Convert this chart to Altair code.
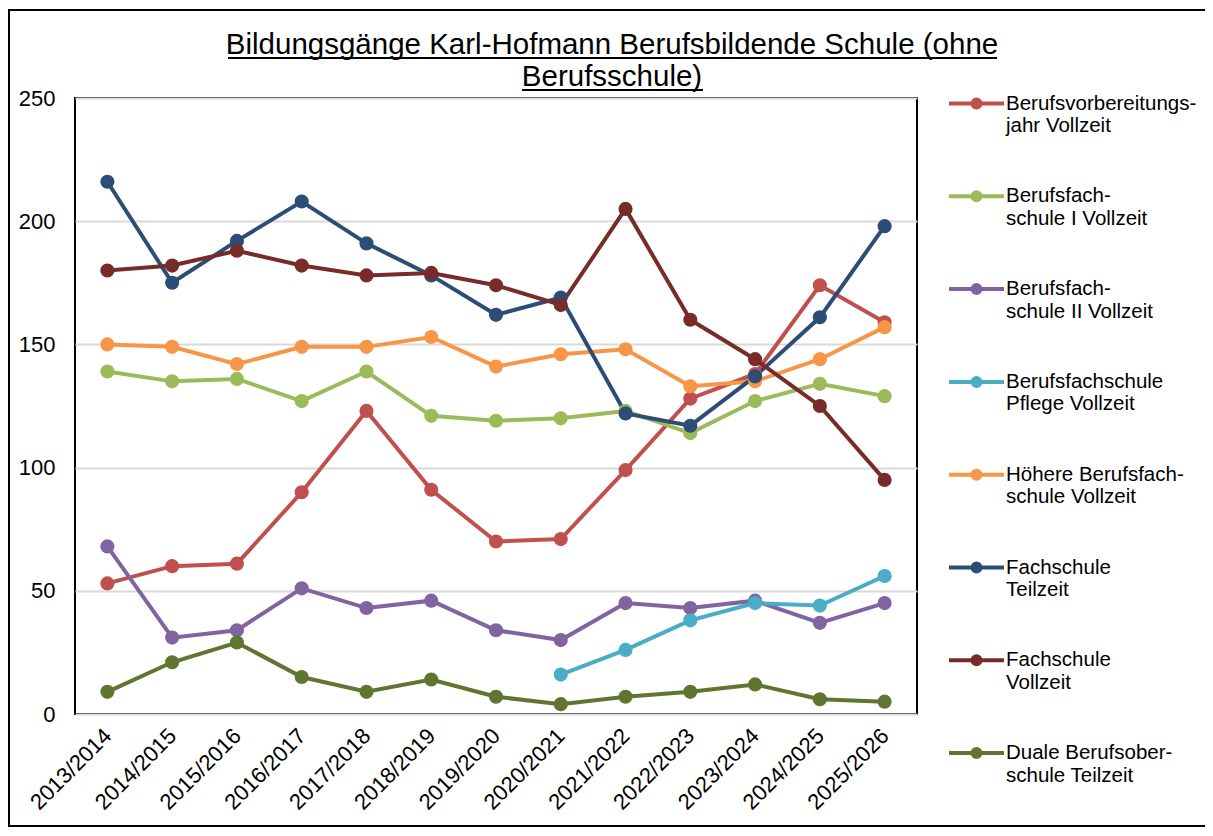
import altair as alt
import pandas as pd

years = ["2013/2014", "2014/2015", "2015/2016", "2016/2017", "2017/2018", "2018/2019",
         "2019/2020", "2020/2021", "2021/2022", "2022/2023", "2023/2024", "2024/2025", "2025/2026"]

series_names = [
    "Berufsvorbereitungs-|jahr Vollzeit",
    "Berufsfach-|schule I Vollzeit",
    "Berufsfach-|schule II Vollzeit",
    "Berufsfachschule|Pflege Vollzeit",
    "Höhere Berufsfach-|schule  Vollzeit",
    "Fachschule|Teilzeit",
    "Fachschule|Vollzeit",
    "Duale Berufsober-|schule Teilzeit",
]

bvj = [53, 60, 61, 90, 123, 91, 70, 71, 99, 128, 138, 174, 159]
bfs1 = [139, 135, 136, 127, 139, 121, 119, 120, 123, 114, 127, 134, 129]
bfs2 = [68, 31, 34, 51, 43, 46, 34, 30, 45, 43, 46, 37, 45]
pflege = [None, None, None, None, None, None, None, 16, 26, 38, 45, 44, 56]
hbf = [150, 149, 142, 149, 149, 153, 141, 146, 148, 133, 135, 144, 157]
fs_tz = [216, 175, 192, 208, 191, 178, 162, 169, 122, 117, 137, 161, 198]
fs_vz = [180, 182, 188, 182, 178, 179, 174, 166, 205, 160, 144, 125, 95]
bos = [9, 21, 29, 15, 9, 14, 7, 4, 7, 9, 12, 6, 5]

colors = ["#C0504D", "#9BBB59", "#8064A2", "#4BACC6", "#F79646", "#2C4D75", "#772C2A", "#5F7530"]

title_lines = ["Bildungsgänge Karl-Hofmann Berufsbildende Schule (ohne", "Berufsschule)"]
y_ticks = [0, 50, 100, 150, 200, 250]

all_series = [bvj, bfs1, bfs2, pflege, hbf, fs_tz, fs_vz, bos]
rows = []
for order, (name, vals) in enumerate(zip(series_names, all_series)):
    for yr, v in zip(years, vals):
        if v is not None:
            rows.append({"Schuljahr": yr, "Serie": name, "Anzahl": v, "order": order})
df = pd.DataFrame(rows)

FONT = "Liberation Sans"
W, H = 842, 616

color_scale = alt.Scale(domain=series_names, range=colors)

# legend symbol: a line with a dot (dot drawn as concentric stroked circles)
r1, r2 = 0.073, 0.145
legend_symbol = (
    "M-1,0H1"
    f"M{r1},0A{r1},{r1},0,1,1,-{r1},0A{r1},{r1},0,1,1,{r1},0"
    f"M{r2},0A{r2},{r2},0,1,1,-{r2},0A{r2},{r2},0,1,1,{r2},0"
)
legend = alt.Legend(title=None, orient="none", legendX=872, legendY=-24,
                    symbolType=legend_symbol, symbolSize=3025,
                    symbolStrokeWidth=4, symbolOpacity=1,
                    labelFont=FONT, labelFontSize=20.5, labelColor="#000000",
                    labelLimit=0, labelOffset=0,
                    labelExpr="split(datum.label, '|')",
                    rowPadding=29.8, direction="vertical")

x_enc = alt.X("Schuljahr:N", sort=years,
              axis=alt.Axis(title=None, labelAngle=-45, labelAlign="right", labelBaseline="middle",
                            labelFontSize=22, labelFont=FONT, labelColor="#000000",
                            ticks=False, domain=False, grid=False, labelPadding=18))
y_enc = alt.Y("Anzahl:Q", scale=alt.Scale(domain=[0, 250], nice=False),
              axis=alt.Axis(title=None, values=y_ticks, labelFontSize=22, labelFont=FONT,
                            labelColor="#000000", ticks=False, domain=False,
                            gridColor="#D9D9D9", gridWidth=2, labelPadding=20))

lines = alt.Chart(df).mark_line(strokeWidth=4).encode(
    x=x_enc, y=y_enc,
    color=alt.Color("Serie:N", scale=color_scale, legend=legend),
    detail="Serie:N",
    order="order:Q",
)

points = alt.Chart(df).mark_circle(size=200, opacity=1).encode(
    x=alt.X("Schuljahr:N", sort=years),
    y="Anzahl:Q",
    color=alt.Color("Serie:N", scale=color_scale, legend=legend),
)

# decorative frame around the whole chart
frame = alt.Chart(df).mark_rect(fill=None, stroke="#000000", strokeWidth=2).encode(
    x=alt.value(-66), x2=alt.value(1140), y=alt.value(-88), y2=alt.value(728)
)

# title underline (text decoration)
underline1 = alt.Chart(df).mark_rule(color="#000000", strokeWidth=2).encode(
    x=alt.value(153), x2=alt.value(922), y=alt.value(-40)
)
underline2 = alt.Chart(df).mark_rule(color="#000000", strokeWidth=2).encode(
    x=alt.value(447), x2=alt.value(628), y=alt.value(-8)
)

chart = alt.layer(lines, points, frame, underline1, underline2).properties(
    width=W, height=H,
    title=alt.TitleParams(title_lines, font=FONT, fontSize=29.5, fontWeight="normal",
                          color="#000000", anchor="middle", dx=116, dy=83, offset=0,
                          lineHeight=32),
    autosize=alt.AutoSizeParams(type="none"),
    padding={"left": 67, "top": 90, "right": 288, "bottom": 114},
).configure(background="#FFFFFF").configure_view(stroke="#000000", strokeWidth=2)

chart.save("out.html", embed_options={"renderer": "svg", "actions": False})
